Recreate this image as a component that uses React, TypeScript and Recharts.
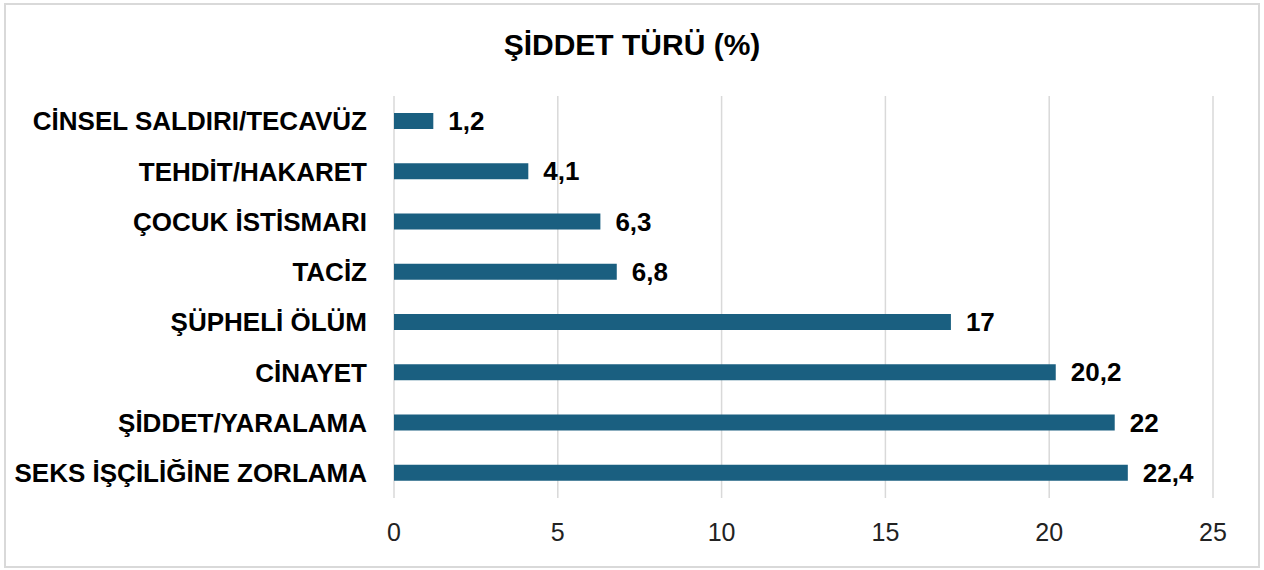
import React from 'react';
import { BarChart, Bar, XAxis, YAxis, CartesianGrid, LabelList } from 'recharts';

const categories = [
  'CİNSEL SALDIRI/TECAVÜZ',
  'TEHDİT/HAKARET',
  'ÇOCUK İSTİSMARI',
  'TACİZ',
  'ŞÜPHELİ ÖLÜM',
  'CİNAYET',
  'ŞİDDET/YARALAMA',
  'SEKS İŞÇİLİĞİNE ZORLAMA',
];
const values = [1.2, 4.1, 6.3, 6.8, 17, 20.2, 22, 22.4];
const xTicks = [0, 5, 10, 15, 20, 25];

const data = categories.map((name, i) => ({ name, value: values[i] }));

const font = '"Liberation Sans", Arial, sans-serif';

const App = () => {
  return (
    <div style={{ position: 'absolute', left: 0, top: 0, width: 1264, height: 570, background: '#fff', fontFamily: font }}>
      <div
        style={{
          position: 'absolute',
          left: 4,
          top: 3,
          width: 1252,
          height: 561,
          border: '2px solid #d9d9d9',
        }}
      />
      <div
        style={{
          position: 'absolute',
          left: 0,
          top: 27,
          width: 1264,
          textAlign: 'center',
          fontWeight: 'bold',
          fontSize: 30,
          lineHeight: '36px',
          color: '#000',
        }}
      >
        ŞİDDET TÜRÜ (%)
      </div>
      <div style={{ position: 'absolute', left: 0, top: 0 }}>
        <BarChart
          width={1264}
          height={570}
          data={data}
          layout="vertical"
          margin={{ top: 96, right: 51, bottom: 22, left: 0 }}
        >
          <CartesianGrid horizontal={false} stroke="#d9d9d9" strokeWidth={1.5} />
          <XAxis
            type="number"
            domain={[0, 25]}
            ticks={xTicks}
            axisLine={false}
            tickLine={false}
            tickSize={0}
            tickMargin={25}
            height={50}
            tick={{ fill: '#222', fontSize: 25, fontFamily: font }}
          />
          <YAxis
            type="category"
            dataKey="name"
            width={394}
            axisLine={false}
            tickLine={false}
            tickSize={0}
            tickMargin={27}
            interval={0}
            tick={{ fill: '#000', fontSize: 26, fontWeight: 'bold', fontFamily: font }}
          />
          <Bar dataKey="value" fill="#1a5f80" barSize={16} isAnimationActive={false}>
            <LabelList
              dataKey="value"
              position="right"
              offset={15}
              formatter={(v: any) => String(v).replace('.', ',')}
              style={{ fill: '#000', fontSize: 26, fontWeight: 'bold', fontFamily: font }}
            />
          </Bar>
        </BarChart>
      </div>
    </div>
  );
};

export default App;
